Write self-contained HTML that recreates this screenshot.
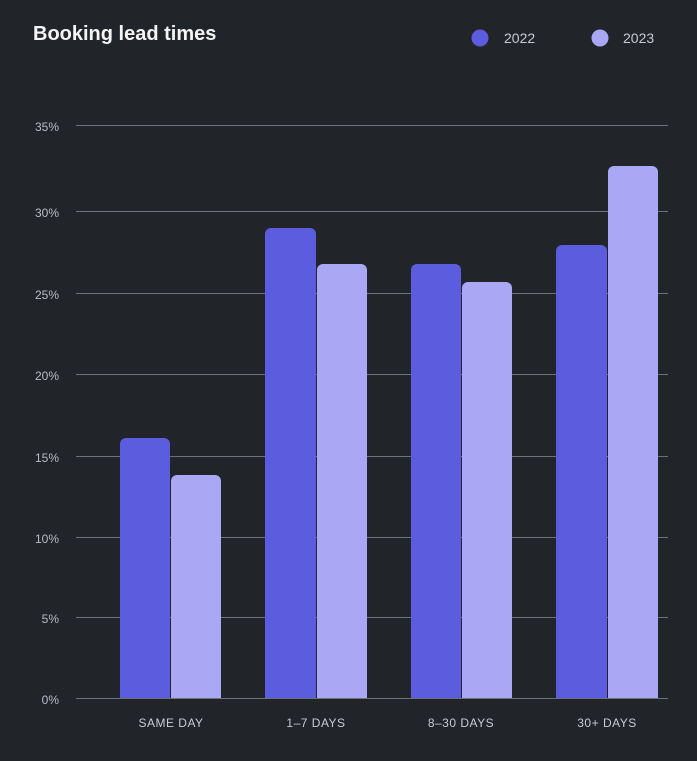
<!DOCTYPE html>
<html><head><style>
html,body{margin:0;padding:0;background:#212529;}
svg{display:block;font-family:"Liberation Sans",sans-serif;}
</style></head><body>
<svg width="697" height="761" viewBox="0 0 697 761">
<rect width="697" height="761" fill="#212529"/>
<text x="33" y="40" fill="#f4f4f6" font-size="20" font-weight="bold">Booking lead times</text>
<circle cx="480" cy="38" r="8.5" fill="#5c5cdf"/>
<text x="504" y="43" fill="#c8cad6" font-size="14">2022</text>
<circle cx="600" cy="38" r="8.5" fill="#aaa8f5"/>
<text x="623" y="43" fill="#c8cad6" font-size="14">2023</text>
<g stroke="#6c7079" stroke-width="1">
<line x1="76" x2="668" y1="125.5" y2="125.5"/>
<line x1="76" x2="668" y1="211.5" y2="211.5"/>
<line x1="76" x2="668" y1="293.5" y2="293.5"/>
<line x1="76" x2="668" y1="374.5" y2="374.5"/>
<line x1="76" x2="668" y1="456.5" y2="456.5"/>
<line x1="76" x2="668" y1="537.5" y2="537.5"/>
<line x1="76" x2="668" y1="617.5" y2="617.5"/>
<line x1="76" x2="668" y1="698.5" y2="698.5"/>
</g>
<g fill="#b8bbc6" font-size="12" text-anchor="end">
<text x="59" y="131">35%</text>
<text x="59" y="217">30%</text>
<text x="59" y="299">25%</text>
<text x="59" y="380">20%</text>
<text x="59" y="462">15%</text>
<text x="59" y="543">10%</text>
<text x="59" y="623">5%</text>
<text x="59" y="704">0%</text>
</g>
<g fill="#5c5cdf">
<path d="M120,698 V444 a6,6 0 0 1 6,-6 H164 a6,6 0 0 1 6,6 V698Z"/>
<path d="M265,698 V234 a6,6 0 0 1 6,-6 H310 a6,6 0 0 1 6,6 V698Z"/>
<path d="M411,698 V270 a6,6 0 0 1 6,-6 H455 a6,6 0 0 1 6,6 V698Z"/>
<path d="M556,698 V251 a6,6 0 0 1 6,-6 H601 a6,6 0 0 1 6,6 V698Z"/>
</g>
<g fill="#aaa8f5">
<path d="M171,698 V481 a6,6 0 0 1 6,-6 H215 a6,6 0 0 1 6,6 V698Z"/>
<path d="M317,698 V270 a6,6 0 0 1 6,-6 H361 a6,6 0 0 1 6,6 V698Z"/>
<path d="M462,698 V288 a6,6 0 0 1 6,-6 H506 a6,6 0 0 1 6,6 V698Z"/>
<path d="M608,698 V172 a6,6 0 0 1 6,-6 H652 a6,6 0 0 1 6,6 V698Z"/>
</g>
<g fill="#c8cad6" font-size="12" text-anchor="middle" letter-spacing="0.5">
<text x="171" y="727">SAME DAY</text>
<text x="316" y="727">1–7 DAYS</text>
<text x="461" y="727">8–30 DAYS</text>
<text x="607" y="727">30+ DAYS</text>
</g>
</svg>
</body></html>
